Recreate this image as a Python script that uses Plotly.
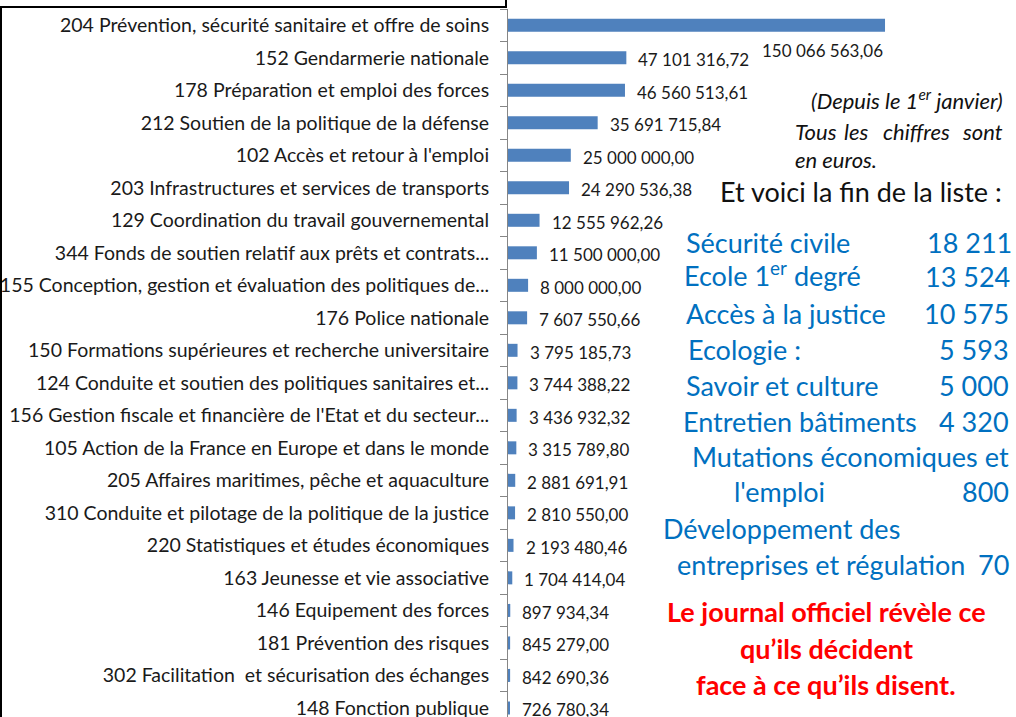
import plotly.graph_objects as go

categories = [
    "204 Prévention, sécurité sanitaire et offre de soins",
    "152 Gendarmerie nationale",
    "178 Préparation et emploi des forces",
    "212 Soutien de la politique de la défense",
    "102 Accès et retour à l'emploi",
    "203 Infrastructures et services de transports",
    "129 Coordination du travail gouvernemental",
    "344 Fonds de soutien relatif aux prêts et contrats...",
    "155 Conception, gestion et évaluation des politiques de...",
    "176 Police nationale",
    "150 Formations supérieures et recherche universitaire",
    "124 Conduite et soutien des politiques sanitaires et...",
    "156 Gestion fiscale et financière de l'Etat et du secteur...",
    "105 Action de la France en Europe et dans le monde",
    "205 Affaires maritimes, pêche et aquaculture",
    "310 Conduite et pilotage de la politique de la justice",
    "220 Statistiques et études économiques",
    "163 Jeunesse et vie associative",
    "146 Equipement des forces",
    "181 Prévention des risques",
    "302 Facilitation  et sécurisation des échanges",
    "148 Fonction publique",
]
values = [
    150066563.06, 47101316.72, 46560513.61, 35691715.84, 25000000.00,
    24290536.38, 12555962.26, 11500000.00, 8000000.00, 7607550.66,
    3795185.73, 3744388.22, 3436932.32, 3315789.80, 2881691.91,
    2810550.00, 2193480.46, 1704414.04, 897934.34, 845279.00,
    842690.36, 726780.34,
]

fin_labels = ["Sécurité civile", "Ecole 1<sup>er</sup> degré", "Accès à la justice",
              "Ecologie :", "Savoir et culture", "Entretien bâtiments",
              "Mutations économiques et<br>l'emploi",
              "Développement des<br>entreprises et régulation"]
fin_values = ["18 211", "13 524", "10 575", "5 593", "5 000", "4 320", "800", "70"]

red_lines = ["Le journal officiel révèle ce", "qu’ils décident", "face à ce qu’ils disent."]


def fr(v):
    return f"{v:,.2f}".replace(",", " ").replace(".", ",")


W, H = 1016, 717
L, T = 508, 9
PW, PH = W - L, H - T


def px(x):
    return (x - L) / PW


def py(y):
    return (H - y) / PH


FONT = "Lato"
fig = go.Figure()
fig.add_trace(go.Bar(
    y=categories, x=values, orientation="h",
    marker=dict(color="#4F81BD", line=dict(width=0)),
    width=0.4, hoverinfo="skip",
))

annotations = []
vfont = dict(family=FONT, size=17, color="#1a1a1a")
for i, (c, v) in enumerate(zip(categories, values)):
    if i == 0:
        annotations.append(dict(x=v, y=c, xref="x", yref="y", text=fr(v), showarrow=False,
                                xanchor="right", yanchor="middle", yshift=-25, font=vfont))
    else:
        annotations.append(dict(x=v, y=c, xref="x", yref="y", text=fr(v), showarrow=False,
                                xanchor="left", yanchor="middle", xshift=10, yshift=-2,
                                font=vfont))


def ann(x, y, text, font, xanchor="left"):
    annotations.append(dict(x=px(x), y=py(y), xref="paper", yref="paper", showarrow=False,
                            xanchor=xanchor, yanchor="middle", text=text, font=font))


ital = dict(family=FONT, size=22, color="#111111")
ann(1005, 100, "<i>(Depuis le 1<sup>er</sup> janvier)</i>", ital, "right")
ann(793, 131, "<i>Tous</i>", ital)
ann(842, 131, "<i>les</i>", ital)
ann(881, 131, "<i>chiffres</i>", ital)
ann(1005, 131, "<i>sont</i>", ital, "right")
ann(793, 159, "<i>en euros.</i>", ital)
ann(718, 192, "Et voici la fin de la liste :", dict(family=FONT, size=27, color="#111111"))

blue = dict(family=FONT, size=27, color="#0070C0")
lab_pos = [(684, 242), (682, 274), (684, 313), (686, 349), (684, 385), (681, 421)]
val_y = [242, 277, 313, 349, 385, 421, 492, 564]
val_x = [1014, 1012, 1011, 1011, 1011, 1011, 1011, 1011]
for i in range(6):
    ann(lab_pos[i][0], lab_pos[i][1], fin_labels[i], blue)
l1, l2 = fin_labels[6].split("<br>")
ann(1011, 457, l1, blue, "right")
ann(732, 492, l2, blue)
m1, m2 = fin_labels[7].split("<br>")
ann(661, 528, m1, blue)
ann(675, 564, m2, blue)
for vx, vy, t in zip(val_x, val_y, fin_values):
    ann(vx, vy, t, blue, "right")

red = dict(family=FONT, size=27, color="#FF0000")
for yy, t in zip([611, 648, 684], red_lines):
    ann(826, yy, f"<b>{t}</b>", red, "center")

shapes = [
    dict(type="line", xref="paper", yref="paper", x0=px(0), x1=px(507), y0=py(7), y1=py(7),
         line=dict(color="black", width=2)),
    dict(type="line", xref="paper", yref="paper", x0=px(506), x1=px(506), y0=py(-5), y1=py(7),
         line=dict(color="black", width=2)),
    dict(type="line", xref="paper", yref="paper", x0=px(1), x1=px(1), y0=py(7), y1=py(720),
         line=dict(color="black", width=2)),
]

fig.update_layout(
    width=W, height=H,
    margin=dict(l=L, r=0, t=T, b=0, pad=0, autoexpand=False),
    paper_bgcolor="white", plot_bgcolor="white",
    showlegend=False,
    annotations=annotations, shapes=shapes,
    xaxis=dict(range=[0, 202.2e6], visible=False, fixedrange=True, automargin=False),
    yaxis=dict(type="category", categoryorder="array", categoryarray=categories,
               range=[21.28, -0.5], showline=True, linecolor="#868686", linewidth=1,
               ticks="outside", ticklen=7, tickcolor="#868686", tickson="boundaries",
               ticklabelstandoff=14, showgrid=False, zeroline=False, automargin=False,
               tickfont=dict(family=FONT, size=19.5, color="#1a1a1a"), fixedrange=True),
)
fig.write_html("out.html", config={"displayModeBar": False},
               post_script="document.body.style.margin='0';document.body.style.overflow='hidden';")
